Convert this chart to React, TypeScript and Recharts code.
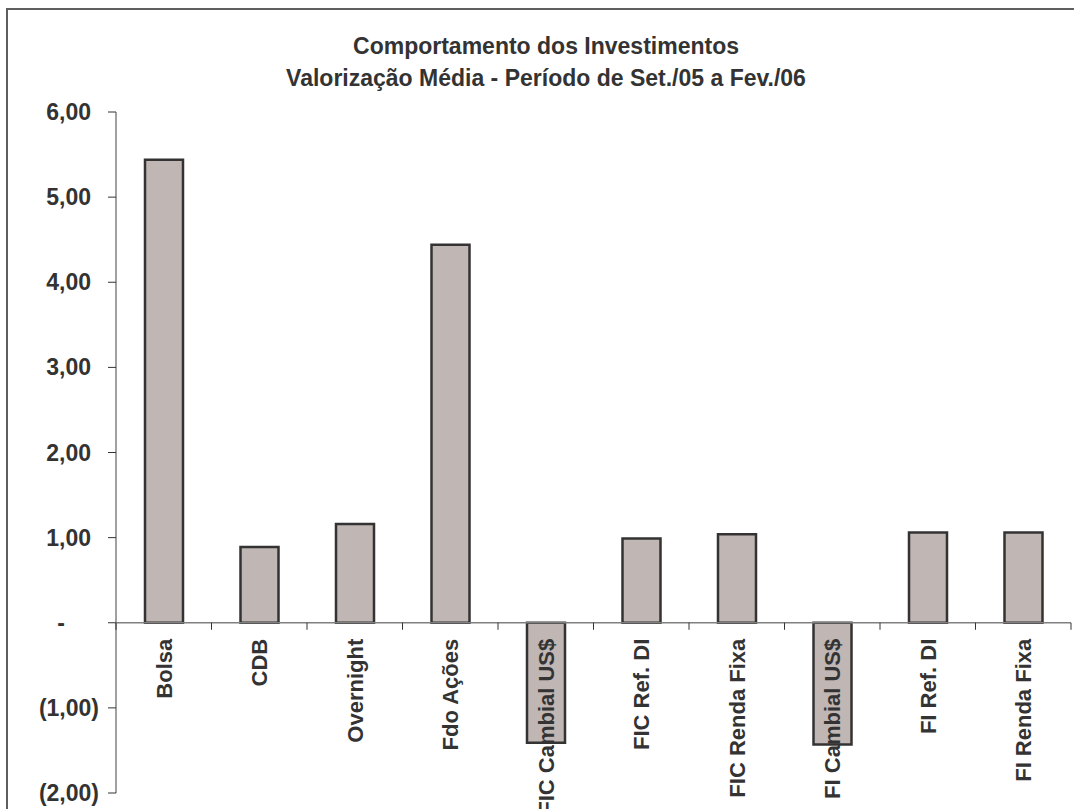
import React from 'react';
import { BarChart, Bar, XAxis, YAxis, ReferenceLine } from 'recharts';

const categories = [
  'Bolsa',
  'CDB',
  'Overnight',
  'Fdo Ações',
  'FIC Cambial US$',
  'FIC Ref. DI',
  'FIC Renda Fixa',
  'FI Cambial US$',
  'FI Ref. DI',
  'FI Renda Fixa',
];
const values = [5.44, 0.89, 1.16, 4.44, -1.41, 0.99, 1.04, -1.43, 1.06, 1.06];
const yTicks = [-2, -1, 0, 1, 2, 3, 4, 5, 6];
const titleLines = [
  'Comportamento dos Investimentos',
  'Valorização Média - Período de Set./05 a Fev./06',
];

const data = categories.map((name, i) => ({ name, value: values[i] }));

const W = 1074;
const H = 809;
const MARGIN = { top: 112, right: 3, bottom: 15, left: 0 };
const Y_AXIS_W = 116;
const X_AXIS_H = 1;
const Y_MIN = -2;
const Y_MAX = 6;
const PLOT_W = W - MARGIN.left - MARGIN.right - Y_AXIS_W;
const PLOT_H = H - MARGIN.top - MARGIN.bottom - X_AXIS_H;
const ZERO_Y = MARGIN.top + (PLOT_H * (Y_MAX - 0)) / (Y_MAX - Y_MIN);
const BAND = PLOT_W / categories.length;

const FONT = '"Liberation Sans", Arial, Helvetica, sans-serif';
const TEXT = '#333333';
const AXIS = '#808080';

const fmt = (v: number) => {
  if (v === 0) return '-';
  const s = Math.abs(v).toFixed(2).replace('.', ',');
  return v < 0 ? `(${s})` : s;
};

class Boundary extends React.Component<any, { err: any }> {
  constructor(p: any) {
    super(p);
    this.state = { err: null };
  }
  static getDerivedStateFromError(err: any) {
    return { err };
  }
  render() {
    if (this.state.err) {
      return (
        <pre style={{ fontSize: 14, whiteSpace: 'pre-wrap', width: 1000 }}>
          {String(this.state.err && (this.state.err.stack || this.state.err.message || this.state.err))}
        </pre>
      );
    }
    return this.props.children;
  }
}

const renderYTick = (props: any) => {
  const { x, y, payload } = props;
  const v = Number(payload && payload.value);
  let dx = -15;
  let anchor: 'end' | 'middle' = 'end';
  if (v < 0) dx = -7;
  if (v === 0) {
    dx = -45;
    anchor = 'middle';
  }
  return (
    <text
      key={`y-${v}`}
      x={x + dx}
      y={y}
      dy="0.35em"
      textAnchor={anchor}
      fill={TEXT}
      fontFamily={FONT}
      fontWeight="bold"
      fontSize={23}
    >
      {fmt(v)}
    </text>
  );
};

const renderXTick = (props: any) => {
  const { x, payload, index } = props;
  const last = index === categories.length - 1;
  return (
    <g key={`x-${index}`}>
      <line x1={x - BAND / 2} x2={x - BAND / 2} y1={ZERO_Y} y2={ZERO_Y + 7} stroke={TEXT} strokeWidth={1} />
      {last ? (
        <line x1={x + BAND / 2} x2={x + BAND / 2} y1={ZERO_Y} y2={ZERO_Y + 7} stroke={TEXT} strokeWidth={1} />
      ) : null}
      <text
        transform={`translate(${x}, ${ZERO_Y + 16}) rotate(-90)`}
        dy="0.36em"
        textAnchor="end"
        fill={TEXT}
        fontFamily={FONT}
        fontWeight="bold"
        fontSize={22}
      >
        {payload ? payload.value : ''}
      </text>
    </g>
  );
};

export default function App() {
  return (
    <Boundary>
      <div
        style={{
          position: 'absolute',
          left: 6,
          top: 8,
          width: W - 6,
          height: H - 8,
          borderLeft: '2px solid #5f5f5f',
          borderTop: '2px solid #5f5f5f',
          boxSizing: 'border-box',
        }}
      />
      <div style={{ position: 'absolute', left: 0, top: 0 }}>
        <BarChart width={W} height={H} data={data} margin={MARGIN}>
          <YAxis
            type="number"
            domain={[Y_MIN, Y_MAX]}
            ticks={yTicks}
            width={Y_AXIS_W}
            axisLine={{ stroke: AXIS, strokeWidth: 1.5 }}
            tickLine={{ stroke: TEXT, strokeWidth: 1 }}
            tickSize={8}
            tick={renderYTick}
          />
          <ReferenceLine y={0} stroke={AXIS} strokeWidth={1.5} />
          <Bar
            dataKey="value"
            fill="#c0b6b3"
            stroke="#333333"
            strokeWidth={2.5}
            barSize={38}
            isAnimationActive={false}
          />
          <XAxis
            dataKey="name"
            type="category"
            height={X_AXIS_H}
            axisLine={false}
            tickLine={false}
            interval={0}
            tick={renderXTick}
          />
        </BarChart>
      </div>
      <div
        style={{
          position: 'absolute',
          left: 146,
          top: 30,
          width: 800,
          textAlign: 'center',
          fontFamily: FONT,
          fontWeight: 'bold',
          fontSize: 23,
          lineHeight: '32px',
          color: TEXT,
        }}
      >
        {titleLines.map((t) => (
          <div key={t}>{t}</div>
        ))}
      </div>
    </Boundary>
  );
}
